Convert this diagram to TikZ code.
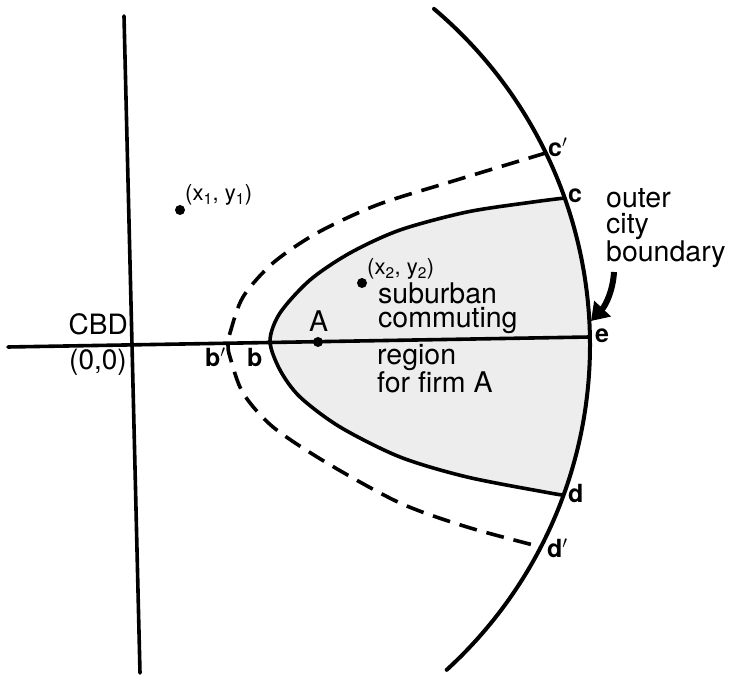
\documentclass[tikz,border=0pt]{standalone}
\usepackage{fontspec}
\setmainfont{TeX Gyre Heros}
\usetikzlibrary{arrows.meta}
\begin{document}
\begin{tikzpicture}[x=1pt,y=1pt,
  axis/.style={line width=3.6pt, line cap=round},
  bound/.style={line width=4pt, line cap=round},
  curve/.style={line width=3.6pt},
  dashcurve/.style={line width=3.6pt, dash pattern=on 18pt off 10pt},
  lab/.style={font=\fontsize{28.5}{28.5}\selectfont, anchor=base west, inner sep=0pt},
  labr/.style={font=\fontsize{28}{28}\selectfont, anchor=base east, inner sep=0pt},
  ptlab/.style={font=\bfseries\fontsize{25}{25}\selectfont, anchor=base west, inner sep=0pt},
  crd/.style={font=\fontsize{22}{22}\selectfont, anchor=base west, inner sep=0pt},
  dot/.style={circle, fill=black, inner sep=0pt, minimum size=10pt}]
\useasboundingbox (0,0) rectangle (734,675);
\coordinate (O) at (150,330);
\coordinate (ctop) at (434,666.1);
\coordinate (c) at (564.8,477);
\coordinate (d) at (563.7,180);
\coordinate (cp) at (545.8,522);
\coordinate (dp) at (541,128);
\coordinate (e) at (589.9,338);
\coordinate (vt) at (124,659);
\coordinate (vb) at (140,2);
\coordinate (hl) at (8,328);
% shaded region
\fill[black!7] plot[smooth] coordinates {(c) (533,473) (467,463) (400,445) (350,422) (310,395) (280,362) (270,334) (280,305) (300,278) (340,248) (400,218) (467,198) (550,182) (d)} arc[start angle=-19.93, end angle=19.52, radius=440] -- cycle;
% curves
\draw[curve] plot[smooth] coordinates {(c) (533,473) (467,463) (400,445) (350,422) (310,395) (280,362) (270,334) (280,305) (300,278) (340,248) (400,218) (467,198) (550,182) (d)};
\draw[dashcurve] plot[smooth] coordinates {(cp) (450,493) (377,470) (317,442) (273,412) (243,378) (230,342) (228,330) (230,318) (243,282) (273,248) (327,212) (400,172) (467,148) (dp)};
% axes
\draw[axis] (vt) -- (vb);
\draw[axis] (hl) -- (e);
% outer boundary
\draw[bound] (ctop) arc[start angle=49.8, end angle=-47.6, radius=440];
% dots
\node[dot] (A) at (318,333) {};
\node[dot] (p1) at (180,465) {};
\node[dot] (p2) at (362,392) {};
% labels
\node[labr] (cbd) at (128,340) {CBD};
\node[labr] (orig) at (127,305) {(0,0)};
\node[ptlab] (lbp) at (205,308) {b$'$};
\node[ptlab] (lb) at (247,308) {b};
\node[lab] (lA) at (309,343) {A};
\node[crd] (lp1) at (185,474) {(x\textsubscript{1}, y\textsubscript{1})};
\node[crd] (lp2) at (367,400) {(x\textsubscript{2}, y\textsubscript{2})};
\node[lab] (t1) at (378,371) {suburban};
\node[lab] (t2) at (378,347) {commuting};
\node[lab] (t3) at (377,310) {region};
\node[lab] (t4) at (377,282) {for firm A};
\node[lab] (o1) at (606,467) {outer};
\node[lab] (o2) at (606,441) {city};
\node[lab] (o3) at (606,413) {boundary};
\node[ptlab] (lcp) at (548,518) {c$'$};
\node[ptlab] (lc) at (568,472) {c};
\node[ptlab] (le) at (595,332) {e};
\node[ptlab] (ld) at (568,172) {d};
\node[ptlab] (ldp) at (547,117) {d$'$};
% arrow
\coordinate (arrs) at (614,403);
\coordinate (arre) at (591,354);
\draw[line width=6pt, -{Triangle[length=17pt,width=22pt]}] (arrs) .. controls (613,385) and (606,370) .. (arre);
\end{tikzpicture}
\end{document}
